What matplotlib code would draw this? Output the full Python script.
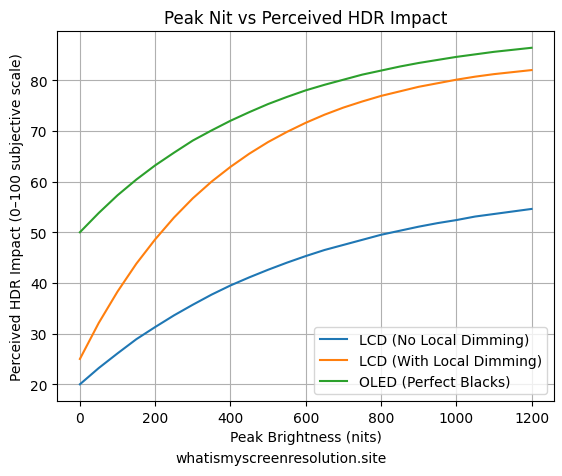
import matplotlib
matplotlib.use("Agg")
import matplotlib.pyplot as plt

# peak brightness samples (nits) and impact scores
nits = [0, 50, 100, 150, 200, 250, 300, 350, 400, 450, 500, 550, 600,
        650, 700, 750, 800, 850, 900, 950, 1000, 1050, 1100, 1150, 1200]
lcd_no_dimming = [20.0, 23.2, 26.1, 28.9, 31.3, 33.6, 35.7, 37.7, 39.5, 41.1, 42.6, 44.0, 45.3,
                  46.5, 47.5, 48.5, 49.5, 50.3, 51.1, 51.8, 52.4, 53.1, 53.6, 54.1, 54.6]
lcd_local_dimming = [25.0, 32.1, 38.3, 43.8, 48.6, 52.9, 56.7, 60.0, 62.9, 65.5, 67.8, 69.8, 71.6,
                     73.2, 74.6, 75.8, 76.9, 77.8, 78.7, 79.4, 80.1, 80.7, 81.2, 81.6, 82.0]
oled = [50.0, 53.8, 57.3, 60.4, 63.2, 65.7, 68.1, 70.1, 72.0, 73.7, 75.3, 76.7, 78.0,
        79.1, 80.1, 81.1, 81.9, 82.7, 83.4, 84.0, 84.6, 85.1, 85.6, 86.0, 86.4]

fig = plt.figure(figsize=(5.62, 4.77), dpi=100)
ax = fig.add_axes([0.102, 0.157, 0.884, 0.776])

ax.plot(nits, lcd_no_dimming, label="LCD (No Local Dimming)")
ax.plot(nits, lcd_local_dimming, label="LCD (With Local Dimming)")
ax.plot(nits, oled, label="OLED (Perfect Blacks)")

ax.set_title("Peak Nit vs Perceived HDR Impact")
ax.set_xlabel("Peak Brightness (nits)")
ax.set_ylabel("Perceived HDR Impact (0–100 subjective scale)")
ax.grid(True)
ax.legend(loc="lower right")

fig.text(0.5, 0.038, "whatismyscreenresolution.site", ha="center", va="center", fontsize=10)

fig.savefig("out.png", dpi=100)
